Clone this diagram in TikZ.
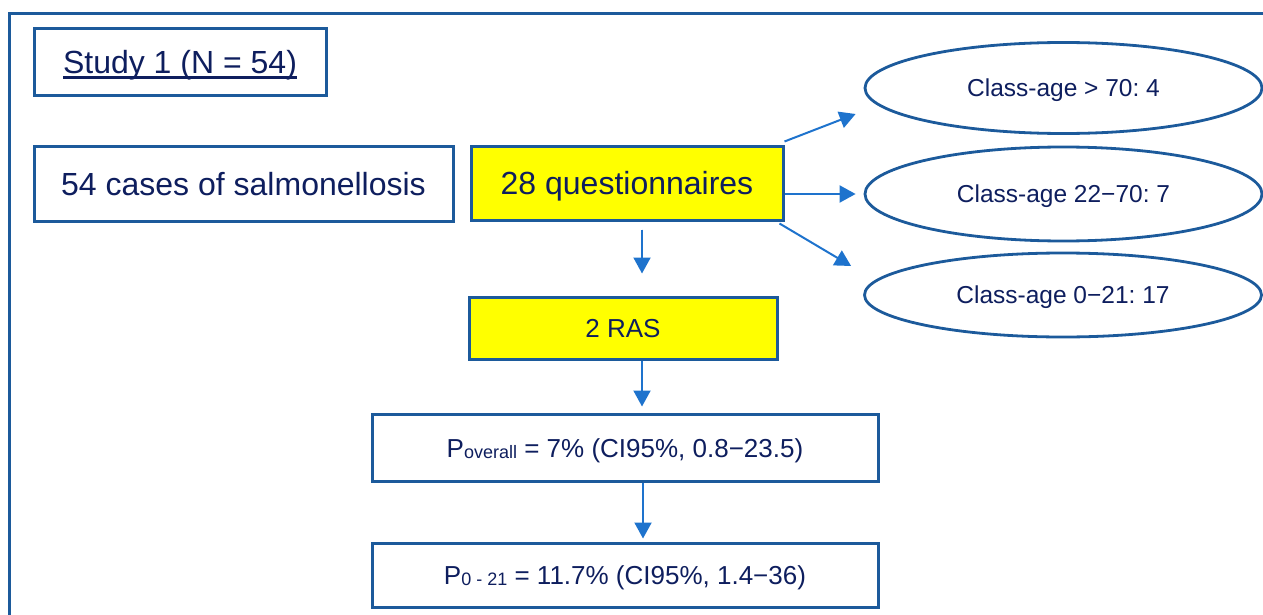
\documentclass[tikz,border=0pt]{standalone}
\usepackage{fontspec}
\setmainfont{Liberation Sans}
\usetikzlibrary{arrows.meta,shapes.geometric}
\definecolor{bord}{RGB}{28,90,155}
\definecolor{arrc}{RGB}{30,115,205}
\definecolor{txt}{RGB}{14,30,94}
\definecolor{yel}{RGB}{255,255,0}
\newcommand\ulx[1]{\setbox0\hbox{#1}\rlap{\rule[-4.6pt]{\wd0}{2.6pt}}\box0}
\newcommand\sbx[1]{\raisebox{-1pt}{\fontsize{18}{18}\selectfont #1}}
\frenchspacing
\begin{document}
\begin{tikzpicture}[x=1pt,y=-1pt,
  box/.style={draw=bord,line width=3pt,inner sep=0pt,text=txt,fill=white},
  bigtxt/.style={font=\fontsize{32}{38}\selectfont,text height=23pt,text depth=0pt},
  midtxt/.style={font=\fontsize{26}{30}\selectfont,text height=18.6pt,text depth=0pt},
  elltxt/.style={font=\fontsize{24.5}{28}\selectfont,text height=17.5pt,text depth=0pt},
  yelbox/.style={box,fill=yel},
  ell/.style={ellipse,draw=bord,line width=2.8pt,inner sep=0pt,text=txt,elltxt,minimum width=397pt},
  arr/.style={draw=arrc,line width=2pt,-{Triangle[length=16pt,width=17pt]},fill=arrc}
]
\useasboundingbox (0,0) rectangle (1263,615);
\clip (0,0) rectangle (1263,615);
% outer frame
\draw[bord,line width=3pt] (9,640) -- (9,14) -- (1290,14);

\node[box,bigtxt,minimum width=292pt,minimum height=67pt] (study) at (180,62.5) {\ulx{Study 1 (N = 54)}};
\node[box,bigtxt,minimum width=419pt,minimum height=75pt] (cases) at (243.5,183.5) {54 cases of salmonellosis};
\node[yelbox,bigtxt,minimum width=312pt,minimum height=74pt] (q) at (627,183) {28 questionnaires};
\node[yelbox,midtxt,minimum width=308pt,minimum height=62pt] (ras) at (623,328) {2 RAS};
\node[box,midtxt,minimum width=506pt,minimum height=67pt] (pov) at (625,448) {P\sbx{overall} = 7\% (CI95\%, 0.8\char"2212 23.5)};
\node[box,midtxt,minimum width=506pt,minimum height=64pt] (pyoung) at (625,575) {P\sbx{0 - 21} = 11.7\% (CI95\%, 1.4\char"2212 36)};

\node[ell,minimum height=91pt] (e1) at (1063.5,88) {Class-age > 70: 4};
\node[ell,minimum height=94pt] (e2) at (1063.5,194) {Class-age 22\char"2212 70: 7};
\node[ell,minimum height=84pt] (e3) at (1063,295) {Class-age 0\char"2212 21: 17};

\coordinate (ax) at (642,0);
\coordinate (bx) at (643,0);
\draw[arr] ([yshift=-8pt]q.south -| ax) -- ([yshift=22pt]ras.north -| ax);
\draw[arr] (ras.south -| ax) -- ([yshift=6.5pt]pov.north -| ax);
\draw[arr] (pov.south -| bx) -- ([yshift=3pt]pyoung.north -| bx);

\draw[arr] ([yshift=3pt]q.north east) -- ([xshift=-8pt,yshift=-26pt]e1.west);
\draw[arr] (q.east |- e2.west) -- ([xshift=-8pt]e2.west);
\draw[arr] ([xshift=-5pt,yshift=-2pt]q.south east) -- ([xshift=-12pt,yshift=29pt]e3.west);
\end{tikzpicture}
\end{document}
